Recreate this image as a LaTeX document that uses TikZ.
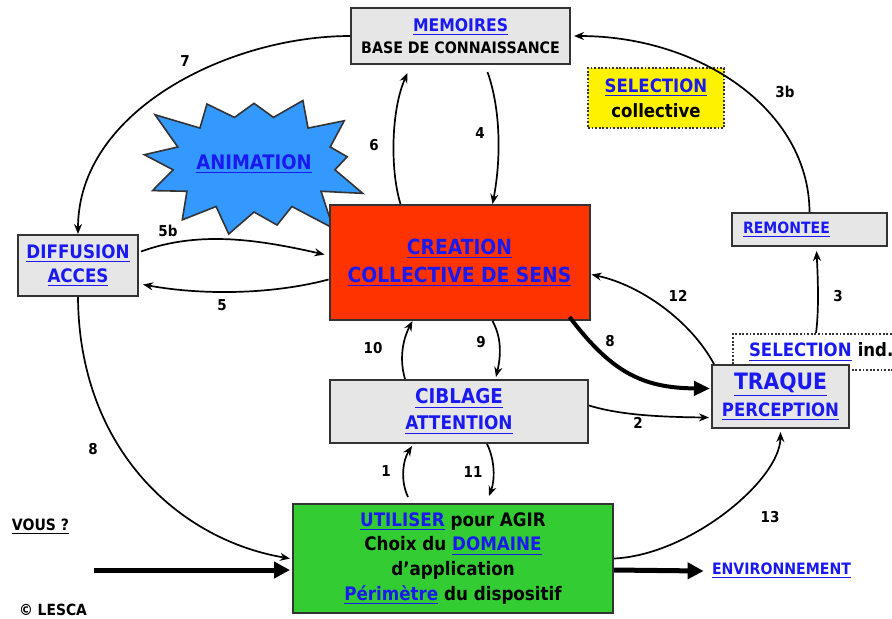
\documentclass[tikz,border=0pt]{standalone}
\usepackage{fontspec}
\setmainfont{DejaVu Sans Condensed}
\usepackage{tikz}
\usetikzlibrary{arrows.meta, positioning, shapes.symbols, calc}
\definecolor{LinkBlue}{RGB}{26, 26, 240}
\definecolor{BoxGray}{RGB}{230, 230, 230}
\definecolor{EdgeGray}{RGB}{51, 51, 51}
\definecolor{Flame}{RGB}{255, 51, 0}
\definecolor{Leaf}{RGB}{51, 204, 51}
\definecolor{Sky}{RGB}{51, 153, 255}
\newcommand{\lnk}[1]{{\color{LinkBlue}\underline{#1}}}
\newcommand{\fsz}[2]{\fontsize{#1}{#2}\selectfont}

\begin{document}
\begin{tikzpicture}[x=0.5pt, y=-0.5pt,
        box/.style={rectangle, draw=EdgeGray, line width=1pt, fill=BoxGray, align=center, inner sep=0pt},
        dotbox/.style={rectangle, draw=EdgeGray, line width=0.9pt, dash pattern=on 0.9pt off 0.9pt, align=left},
        txt/.style={inner sep=0pt},
        num/.style={inner sep=0pt, font=\bfseries\fsz{7.5}{9}},
        arrow/.style={-{Stealth[length=5pt, width=4pt]}, line width=0.85pt},
        bigarrow/.style={-{Triangle[length=8pt, width=8pt]}, line width=2.5pt}
    ]
        \useasboundingbox (0,0) rectangle (892,618);
        % boites
        \node[box, minimum width=109.5pt, minimum height=28pt, font=\bfseries\fsz{8.7}{11}] (mem) at (460.5,36) {\lnk{MEMOIRES}\\\fsz{7.9}{11}BASE DE CONNAISSANCE};
        \node[dotbox, fill=yellow, align=center, inner sep=0pt, minimum width=68pt, minimum height=30pt, font=\bfseries\fsz{9.2}{12.5}] (selc) at (656,98) {\lnk{SELECTION}\\collective};
        \node[starburst, starburst points=13, starburst point height=20pt, random starburst=3, fill=Sky, draw=EdgeGray, line width=0.8pt, minimum width=85pt, minimum height=88pt, inner sep=0pt, font=\bfseries\fsz{10}{12}] (anim) at (254,164) {\lnk{ANIMATION}};
        \node[box, fill=Flame, minimum width=130pt, minimum height=57.5pt, font=\bfseries\fsz{10.4}{14}] (cre) at (459.5,262.5) {\lnk{CREATION}\\\lnk{COLLECTIVE DE SENS}};
        \node[box, minimum width=60pt, minimum height=30.5pt, font=\bfseries\fsz{9.3}{12}] (dif) at (78,265.5) {\lnk{DIFFUSION}\\\lnk{ACCES}};
        \node[box, align=left, text width=66.5pt, inner xsep=5.5pt, minimum height=16.5pt, font=\bfseries\fsz{7.8}{10}] (rem) at (809.5,229.5) {\lnk{REMONTEE}};
        \node[dotbox, text width=75pt, inner xsep=8pt, inner ysep=0pt, minimum height=18pt, font=\bfseries\fsz{9.2}{11}] (sind) at (824,352) {\lnk{SELECTION} ind.};
        \node[box, minimum width=68.5pt, minimum height=31.5pt, font=\bfseries\fsz{11.3}{13.5}] (tra) at (780.5,396.5) {\lnk{TRAQUE}\\\fsz{9.2}{13.5}\lnk{PERCEPTION}};
        \node[box, minimum width=129pt, minimum height=31.5pt, font=\bfseries\fsz{10.2}{13}] (cib) at (459,411.5) {\lnk{CIBLAGE}\\\fsz{9.4}{13}\lnk{ATTENTION}};
        \node[box, fill=Leaf, minimum width=160pt, minimum height=54.5pt, font=\bfseries\fsz{9.3}{12.3}] (uti) at (453,558.5) {\lnk{UTILISER} pour AGIR\\Choix du \lnk{DOMAINE}\\d'application\\\lnk{Périmètre} du dispositif};
        % textes libres
        \node[txt, font=\bfseries\fsz{7.8}{9}] (vous) at (40.5,527) {\underline{VOUS ?}};
        \node[txt, font=\bfseries\fsz{7.7}{9}] (lesca) at (53,610) {© LESCA};
        \node[txt, font=\bfseries\fsz{7.85}{9}] (env) at (781.5,571) {\lnk{ENVIRONNEMENT}};
        \coordinate (vin) at (94,570);
        % fleches
        \draw[arrow] (mem.west) .. controls (230,36) and (78,110) .. (dif.north);
        \draw[arrow] ($(cre.north)+(-59,0)$) .. controls (390,170) and (391,110) .. ($(mem.south)+(-53,8)$);
        \draw[arrow] ($(mem.south)+(27,7)$) .. controls (501,110) and (501,160) .. ($(cre.north)+(33,0)$);
        \draw[arrow] (rem.north) .. controls (809,110) and (700,36) .. ($(mem.east)+(3,0)$);
        \draw[arrow] ($(sind.north)+(-8,0)$) .. controls (819,310) and (818,280) .. ($(rem.south)+(7,4)$);
        \draw[arrow] ($(dif.east)+(2,-14)$) .. controls (200,230) and (260,240) .. ($(cre.west)+(-4,-8)$);
        \draw[arrow] ($(cre.west)+(0,17)$) .. controls (270,295) and (200,295) .. ($(dif.east)+(4,19)$);
        \draw[arrow] ($(tra.north west)+(3,0)$) .. controls (690,320) and (640,285) .. ($(cre.east)+(1,12)$);
        \draw[-{Triangle[length=8pt, width=7pt]}, line width=2pt] ($(cre.south east)+(-21,-4)$) .. controls (610,370) and (640,388) .. ($(tra.west)+(-1,-8)$);
        \draw[arrow] ($(cib.north)+(-54,0)$) .. controls (398,355) and (405,335) .. ($(cre.south)+(-47,0)$);
        \draw[arrow] ($(cre.south)+(33,0)$) .. controls (503,340) and (500,360) .. ($(cib.north)+(37,-2)$);
        \draw[arrow] ($(cib.east)+(0,-6)$) .. controls (620,415) and (660,417) .. ($(tra.west)+(-2,21)$);
        \draw[arrow] ($(uti.north)+(-45,-6)$) .. controls (400,480) and (403,460) .. ($(cib.south)+(-47,2)$);
        \draw[arrow] ($(cib.south)+(28,0)$) .. controls (495,460) and (495,480) .. ($(uti.north)+(36,-7)$);
        \draw[arrow] (dif.south) .. controls (79,450) and (180,540) .. ($(uti.west)+(-2,0)$);
        \draw[arrow] (uti.east) .. controls (690,555) and (780,480) .. ($(tra.south)+(0,3)$);
        \draw[bigarrow] (vin) -- ($(uti.west)+(-2,11.5)$);
        \draw[bigarrow] ($(uti.east)+(0,11.5)$) -- ($(env.west)+(-8,0)$);
        % numeros
        \node[num] (n7) at (185,61) {7};
        \node[num] (n6) at (374,145) {6};
        \node[num] (n4) at (480,133) {4};
        \node[num] (n3b) at (785,92) {3b};
        \node[num] (n3) at (838,296) {3};
        \node[num] (n5b) at (168,231) {5b};
        \node[num] (n5) at (222,305) {5};
        \node[num] (n12) at (678,296) {12};
        \node[num] (n8a) at (610,341) {8};
        \node[num] (n10) at (373,348) {10};
        \node[num] (n9) at (481,342) {9};
        \node[num] (n2) at (638,423) {2};
        \node[num] (n1) at (386,471) {1};
        \node[num] (n11) at (473,472) {11};
        \node[num] (n8b) at (93,449) {8};
        \node[num] (n13) at (770,517) {13};
    \end{tikzpicture}
\end{document}
